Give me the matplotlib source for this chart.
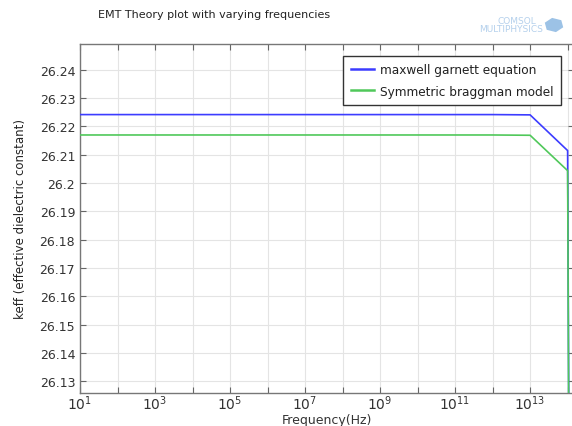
import math
import matplotlib
matplotlib.use("Agg")
import matplotlib.pyplot as plt
from matplotlib.ticker import FixedLocator, FuncFormatter, NullLocator
from matplotlib.patches import RegularPolygon

# Frequency sweep (Hz) and effective permittivity from the two EMT models
freq = [1e1, 1e2, 1e3, 1e4, 1e5, 1e6, 1e7, 1e8, 1e9, 1e10, 1e11, 1e12, 1e13, 1e14, 1.1e14]
keff_maxwell_garnett = [26.2242, 26.2242, 26.2242, 26.2242, 26.2242, 26.2242, 26.2242,
                        26.2242, 26.2242, 26.2242, 26.2242, 26.2242, 26.2241, 26.2115, 26.085]
keff_bruggeman = [26.2170, 26.2170, 26.2170, 26.2170, 26.2170, 26.2170, 26.2170,
                  26.2170, 26.2170, 26.2170, 26.2170, 26.2170, 26.2169, 26.2044, 26.080]

series_labels = ["maxwell garnett equation", "Symmetric braggman model"]
title = "EMT Theory plot with varying frequencies"
xlabel = "Frequency(Hz)"
ylabel = "keff (effective dielectric constant)"
y_ticks = [26.13, 26.14, 26.15, 26.16, 26.17, 26.18, 26.19, 26.20, 26.21, 26.22, 26.23, 26.24]
x_ticks = [1e1, 1e2, 1e3, 1e4, 1e5, 1e6, 1e7, 1e8, 1e9, 1e10, 1e11, 1e12, 1e13, 1e14]

plt.rcParams["font.family"] = ["DejaVu Sans"]
plt.rcParams["mathtext.default"] = "regular"

fig = plt.figure(figsize=(5.72, 4.27), dpi=100)
ax = fig.add_axes([80 / 572, 33 / 427, 494 / 572, 349.5 / 427])

blue = "#3c3cff"
green = "#50c85a"
ax.plot(freq, keff_maxwell_garnett, color=blue, lw=1.2, label=series_labels[0], zorder=3)
ax.plot(freq, keff_bruggeman, color=green, lw=1.2, label=series_labels[1], zorder=4)

ax.set_xscale("log")
ax.set_xlim(10, 10 ** 14.17)
ax.set_ylim(26.1259, 26.2493)

ax.xaxis.set_major_locator(FixedLocator(x_ticks))
ax.xaxis.set_minor_locator(NullLocator())


def xfmt(v, pos):
    e = int(round(math.log10(v)))
    return r"$10^{%d}$" % e if e % 2 == 1 else ""


ax.xaxis.set_major_formatter(FuncFormatter(xfmt))
ax.yaxis.set_major_locator(FixedLocator(y_ticks))
ax.yaxis.set_major_formatter(FuncFormatter(lambda v, p: ("%.2f" % v).rstrip("0").rstrip(".")))

ax.tick_params(direction="in", length=4, width=0.8, colors="#666666",
               labelcolor="#333333", labelsize=9, top=True, right=True)
ax.tick_params(axis="x", pad=0.5, labelsize=10)
ax.grid(True, color="#e4e4e4", lw=0.8, zorder=0)
for s in ax.spines.values():
    s.set_color("#777777")
    s.set_linewidth(1.0)

ax.set_xlabel(xlabel, fontsize=9, color="#333333", labelpad=0.5)
ax.set_ylabel(ylabel, fontsize=8.5, color="#222222", labelpad=9)

fig.text(98 / 572, 1 - 15 / 427, title, fontsize=8, color="#222222",
         ha="left", va="center")

leg = ax.legend(loc="upper right", bbox_to_anchor=(561 / 572, 1 - 57 / 427),
                bbox_transform=fig.transFigure, borderaxespad=0, fontsize=8.7,
                frameon=True, fancybox=False, edgecolor="#333333", framealpha=1,
                handlelength=1.9, borderpad=0.6, labelspacing=0.7, handletextpad=0.55)
leg.get_frame().set_linewidth(1.0)
for line in leg.get_lines():
    line.set_linewidth(1.8)
for t in leg.get_texts():
    t.set_color("#222222")

# Software watermark at the top right
logo_c = "#b4d0ec"
fig.text(536 / 572, 1 - 21 / 427, "COMSOL", fontsize=6.5, color=logo_c,
         ha="right", va="center")
fig.text(543 / 572, 1 - 30 / 427, "MULTIPHYSICS", fontsize=6.5, color=logo_c,
         ha="right", va="center")
cube = RegularPolygon((554 / 572, 1 - 26 / 427), numVertices=6, radius=0.017,
                      orientation=0.2, transform=fig.transFigure,
                      facecolor="#9cc2e6", edgecolor="none")
fig.patches.append(cube)

fig.savefig("out.png", dpi=100)
